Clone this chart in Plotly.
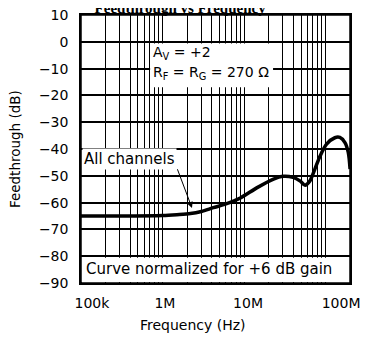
import numpy as np
import plotly.graph_objects as go

# curve (frequency in Hz, feedthrough in dB)
freq_hz = [1e5, 3e5, 1e6, 1.5e6, 2.2e6, 3e6, 4.2e6, 6e6, 9e6, 1.43e7,
           2.3e7, 3.0e7, 4.0e7, 4.9e7, 5.6e7, 6.4e7, 7.4e7, 8.6e7, 1.03e8,
           1.3e8, 1.5e8, 1.73e8, 1.9e8, 2.0e8]
feedthrough_db = [-65.0, -65.0, -64.8, -64.5, -64.1, -63.3, -61.9, -60.5, -58.3,
                  -54.5, -51.2, -50.2, -50.6, -52.0, -53.5, -52.0, -47.5, -42.5, -38.2,
                  -35.8, -35.7, -37.6, -41.3, -47.5]

tick_freqs = [1e5, 1e6, 1e7, 1e8]
tick_text = ["100k", "1M", "10M", "100M"]
y_ticks = [-90, -80, -70, -60, -50, -40, -30, -20, -10, 0, 10]

# the scanned labels sit a little right of their decade lines
label_nudge = [1.36, 1.07, 1.12, 1.55]

grid_freqs = [k * 10 ** d for d in range(5, 9) for k in range(1, 10) if k * 10 ** d <= 2e8]

FONT = "DejaVu Sans"

fig = go.Figure()
fig.add_trace(go.Scatter(
    x=freq_hz, y=feedthrough_db, mode="lines",
    line=dict(color="black", width=3.5, shape="spline", smoothing=0.8),
    showlegend=False, hoverinfo="skip",
))

fig.update_xaxes(
    type="log", range=[5, 8.30], automargin=False,
    tickvals=[f * n for f, n in zip(tick_freqs, label_nudge)], ticktext=tick_text,
    showgrid=False, ticks="", ticklabelstandoff=6, ticklabeloverflow="allow",
    showline=True, linecolor="black", linewidth=1.5, mirror=True,
    minor=dict(tickmode="array", tickvals=grid_freqs, showgrid=True,
               gridcolor="black", gridwidth=1, ticks="inside", ticklen=3,
               tickcolor="black"),
    tickfont=dict(family=FONT, size=14, color="black"),
)
fig.update_yaxes(
    range=[-90, 10], tickvals=y_ticks, automargin=False,
    showgrid=True, gridcolor="black", gridwidth=1.5,
    zeroline=False, ticks="", ticklabelstandoff=8, ticklabeloverflow="allow",
    showline=True, linecolor="black", linewidth=1.5, mirror=True,
    tickfont=dict(family=FONT, size=14, color="black"),
)

shapes = [
    # white patch behind gain text
    dict(type="rect", xref="paper", yref="y", x0=0.257, x1=0.714, y0=-17, y1=-0.6,
         fillcolor="white", line=dict(width=0), layer="above"),
    # bottom note band
    dict(type="rect", xref="paper", yref="y", x0=0, x1=1, y0=-89.6, y1=-80.6,
         fillcolor="white", line=dict(width=0), layer="above"),
    # plot frame on top
    dict(type="rect", xref="paper", yref="paper", x0=0, x1=1, y0=0, y1=1,
         line=dict(color="black", width=1.5), layer="above"),
]

annotations = [
    dict(xref="paper", yref="y", x=0.262, y=-4.2, xanchor="left", yanchor="middle",
         text="A<sub>V</sub> = +2", showarrow=False,
         font=dict(family=FONT, size=14, color="black")),
    dict(xref="paper", yref="y", x=0.262, y=-11.7, xanchor="left", yanchor="middle",
         text="R<sub>F</sub> = R<sub>G</sub> = 270 Ω", showarrow=False,
         font=dict(family=FONT, size=14, color="black")),
    dict(xref="paper", yref="y", x=0.005, y=-43.8, xanchor="left", yanchor="middle",
         text="All channels", showarrow=False, bgcolor="white", borderpad=1,
         font=dict(family=FONT, size=15, color="black")),
    dict(xref="x", yref="y", x=np.log10(2.3e6), y=-62.0,
         axref="x", ayref="y", ax=np.log10(1.5e6), ay=-47.0,
         text="", showarrow=True, arrowhead=2, arrowsize=1.2, arrowwidth=1,
         arrowcolor="black"),
    dict(xref="paper", yref="y", x=0.012, y=-84.8, xanchor="left", yanchor="middle",
         text="Curve normalized for +6 dB gain", showarrow=False,
         font=dict(family=FONT, size=15, color="black")),
    dict(xref="paper", yref="paper", x=0.418, y=-0.157, xanchor="center", yanchor="middle",
         text="Frequency (Hz)", showarrow=False,
         font=dict(family=FONT, size=14, color="black")),
    dict(xref="paper", yref="paper", x=-0.245, y=0.5, xanchor="center", yanchor="middle",
         text="Feedthrough (dB)", textangle=-90, showarrow=False,
         font=dict(family=FONT, size=13.5, color="black")),
]

# page body adds an 8px margin all round, so the figure is drawn smaller
fig.update_layout(
    width=352, height=329,
    margin=dict(l=73, r=10, t=7, b=54),
    paper_bgcolor="white", plot_bgcolor="white",
    title=dict(text="<b>Feedthrough vs Frequency</b>", x=0.489, xanchor="center",
               yref="container", y=1.0, yanchor="middle", automargin=False,
               font=dict(family="Liberation Serif", size=15, color="black")),
    shapes=shapes, annotations=annotations,
)

fig.write_html("out.html")
